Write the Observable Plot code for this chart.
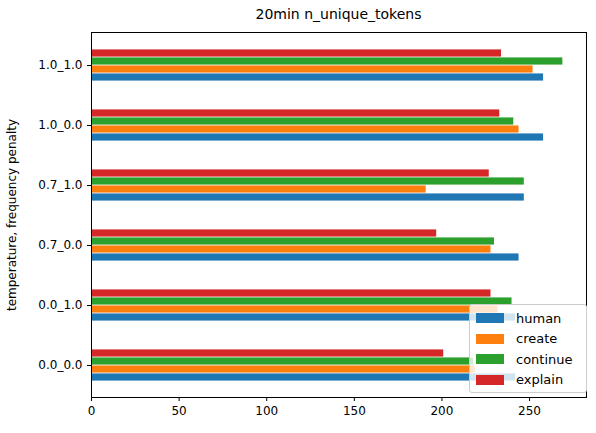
<!DOCTYPE html>
<html><head>
<script src="https://cdn.jsdelivr.net/npm/d3@7"></script>
<script src="https://cdn.jsdelivr.net/npm/@observablehq/plot@0.6"></script>
<style>
body{margin:0;font-family:"DejaVu Sans",sans-serif;}
#wrap{position:relative;width:596px;height:433px;}
#title{position:absolute;left:91px;width:495px;top:6px;text-align:center;font-size:14px;}
#legend{position:absolute;left:469px;top:304px;width:110px;background:rgba(255,255,255,0.8);border:1px solid #ccc;border-radius:3px;font-size:13px;padding:3px 0 2px 6px;}
#legend div{display:flex;align-items:center;height:20.5px;}
#legend span.sw{display:inline-block;width:28px;height:10px;margin-right:12px;}
</style>
</head><body>
<div id="wrap"><div id="title">20min n_unique_tokens</div><div id="legend"></div></div>
<script>
const groups = ["1.0_1.0","1.0_0.0","0.7_1.0","0.7_0.0","0.0_1.0","0.0_0.0"];
const series = ["human","create","continue","explain"];
const colors = ["#1f77b4","#ff7f0e","#2ca02c","#d62728"];
const human    = [258,258,247,244,242,242];
const create   = [252,244,191,228,232,219];
const cont     = [269,241,247,230,240,218];
const explain  = [234,233,227,197,228,201];
const vals = [human, create, cont, explain];
const offsets = [12, 4, -4, -12];

const band = (397-32)/6, inset = (band-8)/2;
const marks = series.map((s,i) => Plot.barX(groups.map((g,j)=>({g, v: vals[i][j]})), {
  y: "g", x: "v", fill: colors[i], dy: offsets[i], insetTop: inset, insetBottom: inset
}));

const chart = Plot.plot({
  width: 596, height: 433,
  marginLeft: 91, marginRight: 10, marginTop: 32, marginBottom: 36,
  style: {fontFamily: "DejaVu Sans", fontSize: "12px", color: "black"},
  x: {domain: [0, 282.5], ticks: [0,50,100,150,200,250], label: null, tickSize: 4},
  y: {domain: groups, padding: 0, label: "temperature, frequency penalty", labelAnchor: "center", labelOffset: 84, tickSize: 4},
  marks: [...marks, Plot.frame({stroke: "black"})]
});
document.getElementById("wrap").prepend(chart);
const lg = document.getElementById("legend");
series.forEach((s,i)=>{lg.innerHTML += `<div><span class="sw" style="background:${colors[i]}"></span>${s}</div>`;});
</script>
</body></html>
